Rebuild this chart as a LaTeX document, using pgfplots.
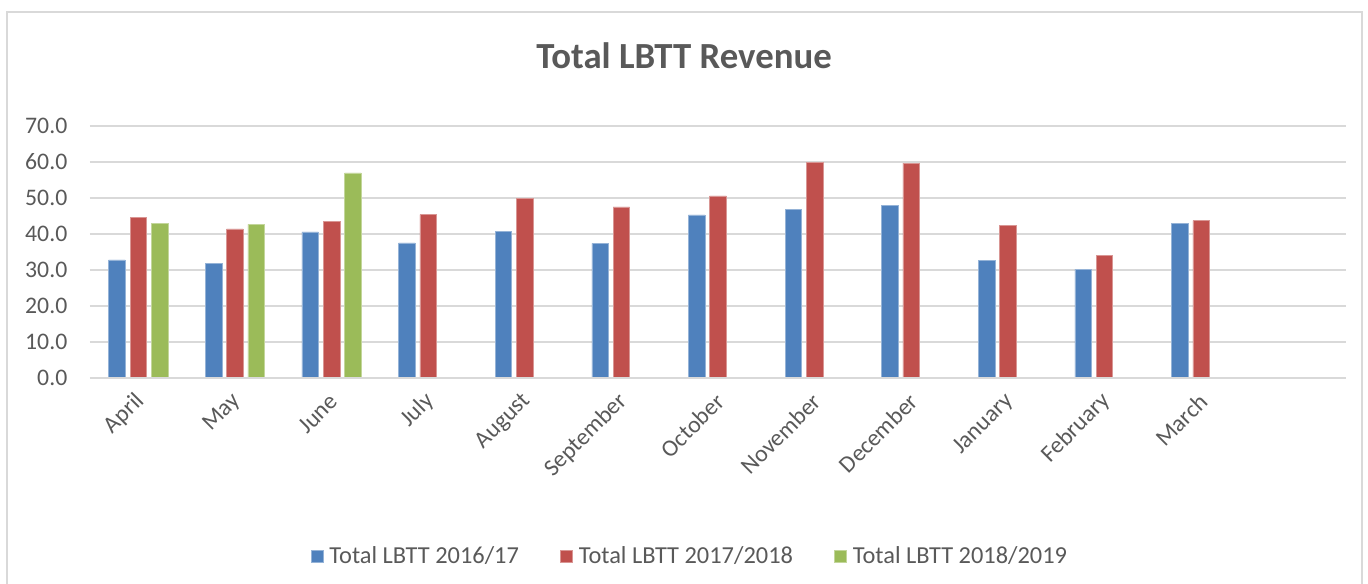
\documentclass[border=0pt]{standalone}
\usepackage{pgfplots}
\pgfplotsset{compat=1.18}
\usepackage{fontspec}
\setmainfont{Carlito}
\definecolor{cblue}{HTML}{4F81BD}
\definecolor{cred}{HTML}{C0504D}
\definecolor{cgreen}{HTML}{9BBB59}
\definecolor{ctext}{HTML}{595959}
\definecolor{cgrid}{HTML}{D9D9D9}
\begin{document}
\begin{tikzpicture}
\path[use as bounding box] (0pt,0pt) rectangle (1026pt,438pt);
\draw[cgrid, line width=1.2pt] (5.25pt,-5pt) -- (5.25pt,429pt) -- (1021.5pt,429pt) -- (1021.5pt,-5pt);
\node[text=ctext, font=\fontsize{27.6}{32}\selectfont\bfseries] at (513pt,396pt) {Total LBTT Revenue};
\begin{axis}[
  at={(67.5pt,154.5pt)}, anchor=south west,
  width=942pt, height=189pt, scale only axis,
  xmin=-0.5, xmax=12.5, ymin=0, ymax=70,
  ytick={0,10,...,70},
  xtick={0,...,11},
  xticklabels={April,May,June,July,August,September,October,November,December,January,February,March},
  major tick length=0pt,
  axis line style={draw=none},
  ymajorgrids, grid style={cgrid, line width=1pt},
  tick label style={text=ctext, font=\fontsize{17.8}{20}\selectfont},
  /pgf/number format/assume math mode=true,
  yticklabel={\pgfmathprintnumber[fixed,fixed zerofill,precision=1]{\tick}},
  yticklabel style={xshift=-13.5pt},
  xticklabel style={rotate=45, anchor=east, xshift=-5.8pt, yshift=-11.7pt},
  ybar, bar width=12.4pt,
  legend style={at={(0.478,-0.706)}, anchor=center, draw=none, fill=none,
    legend columns=3, font=\fontsize{18.3}{20}\selectfont, text=ctext,
    /tikz/every even column/.append style={column sep=29pt},
    /tikz/every odd column/.append style={column sep=2.5pt}},
  legend image code/.code={\fill[#1] (0pt,-4.5pt) rectangle (9pt,4.5pt);},
]
\addplot[fill=cblue, draw=cblue!60!white, line width=0.4pt, bar shift=-16pt] coordinates {
(0,32.8) (1,31.8) (2,40.6) (3,37.5) (4,40.7) (5,37.4) (6,45.3) (7,46.9) (8,48.0) (9,32.6) (10,30.2) (11,43.0)};
\addplot[fill=cred, draw=cred!60!white, line width=0.4pt, bar shift=0pt] coordinates {
(0,44.7) (1,41.4) (2,43.6) (3,45.4) (4,49.9) (5,47.5) (6,50.6) (7,60.0) (8,59.7) (9,42.3) (10,34.1) (11,43.7)};
\addplot[fill=cgreen, draw=cgreen!60!white, line width=0.4pt, bar shift=16pt] coordinates {
(0,43.0) (1,42.7) (2,57.0)};
\draw[cgrid, line width=1pt] (axis cs:-0.5,0) -- (axis cs:12.5,0);
\legend{Total LBTT 2016/17, Total LBTT 2017/2018, Total LBTT 2018/2019}
\end{axis}
\end{tikzpicture}
\end{document}
